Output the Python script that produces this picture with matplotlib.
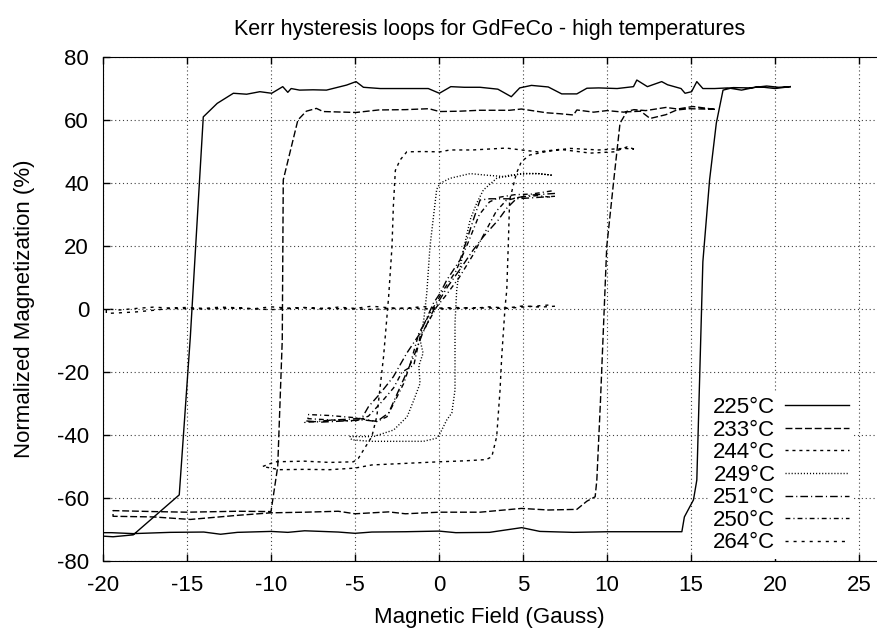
import matplotlib
matplotlib.use("Agg")
import matplotlib.pyplot as plt

plt.rcParams['font.family'] = ['Liberation Sans', 'DejaVu Sans']
plt.rcParams['axes.unicode_minus'] = False

# 225 C - big loop (descending top branch, then ascending bottom branch)
x225 = [20.9, 20.0, 19.0, 18.0, 17.2, 16.4, 15.7, 15.34, 15.03, 14.64, 14.4, 13.6, 13.25, 12.4,
        11.77, 11.57, 10.6, 9.5, 8.8, 8.2, 7.3, 6.5, 5.5, 4.8, 4.3, 3.5, 2.44, 1.5, 0.7, 0.02,
        -0.64, -2.0, -3.5, -4.5, -4.94, -5.5, -6.7, -7.5, -8.3, -8.8, -9.0, -9.3, -9.96, -10.66,
        -11.45, -12.24, -13.2, -14.03, -14.8, -15.46, -18.2, -19.4, -20.3,
        -20.3, -19.5, -18.2, -16.0, -14.0, -13.0, -12.0, -10.0, -9.0, -8.0, -6.0, -5.0, -4.0,
        -2.0, 0.0, 1.0, 3.0, 4.92, 6.0, 8.0, 10.0, 12.0, 14.45, 14.6, 15.14, 15.34, 15.7, 16.1,
        16.5, 16.9, 17.5, 18.5, 19.5, 20.2, 20.9]
y225 = [70.6, 70.0, 70.6, 69.5, 70.2, 70.0, 70.0, 72.2, 69.0, 68.5, 70.0, 71.2, 72.2, 70.6,
        72.7, 70.6, 70.0, 70.2, 70.1, 68.3, 68.3, 70.5, 71.0, 70.2, 67.4, 69.8, 70.4, 70.4, 70.6, 68.5,
        70.0, 70.0, 70.0, 70.4, 72.2, 71.1, 69.5, 69.6, 69.5, 70.0, 68.8, 70.6, 68.5, 69.0,
        68.2, 68.5, 65.3, 61.0, -8.8, -59.0, -71.7, -72.3, -72.0,
        -71.0, -71.0, -71.3, -70.9, -70.8, -71.5, -70.9, -70.6, -70.9, -70.4, -70.8, -71.2, -70.8,
        -70.7, -70.5, -71.0, -70.9, -69.4, -70.6, -70.9, -70.7, -70.7, -70.7, -66.0, -60.6, -54.3, 15.0, 41.0,
        59.0, 69.5, 70.3, 70.2, 70.8, 70.4, 70.6]

# 233 C
x233 = [16.4, 15.1, 14.2, 13.5, 12.3, 11.6, 11.0, 10.0, 9.2, 8.2, 8.0, 7.2, 6.4, 4.9, 4.2, 2.4,
        1.2, 0.02, -0.6, -2.0, -3.6, -4.94, -6.9, -7.3, -7.9, -8.4, -9.27, -9.33, -9.6, -10.0,
        -12.0, -15.0, -17.0, -19.4,
        -19.4, -17.0, -14.8, -12.0, -10.0, -8.0, -6.0, -5.0, -3.0, -2.0, 0.0, 2.44, 4.9, 6.5,
        8.2, 8.8, 9.29, 9.39, 9.6, 9.98, 10.4, 10.77, 11.17, 12.0, 12.56, 13.5, 14.15, 14.9, 16.4]
y233 = [63.4, 64.3, 63.5, 64.0, 63.0, 63.3, 62.5, 63.0, 62.5, 63.2, 61.6, 62.0, 62.3, 63.5, 63.1, 63.1,
        62.8, 62.7, 63.6, 63.3, 63.2, 62.4, 62.7, 63.7, 62.8, 60.0, 41.0, -9.8, -50.0, -64.3,
        -64.2, -64.5, -64.3, -64.0,
        -65.8, -66.0, -66.8, -65.5, -64.7, -64.5, -64.2, -65.0, -64.4, -65.0, -64.5, -64.5, -63.3, -63.8,
        -63.6, -61.0, -59.6, -54.3, -30.0, 19.8, 41.0, 59.0, 62.6, 62.8, 60.5, 61.7, 63.2, 63.6, 63.4]

# 244 C
x244 = [11.6, 11.2, 10.4, 9.0, 7.2, 5.9, 4.9, 4.0, 2.0, 0.65, 0.06, -1.0, -1.92, -2.32, -2.6,
        -2.72, -2.8, -3.0, -3.3, -3.7, -4.0, -4.5, -4.8, -5.1, -6.5, -8.0, -9.76, -10.5,
        -9.5, -8.0, -6.5, -5.0, -4.0, -2.0, 0.0, 1.5, 2.8, 3.14, 3.43, 3.63, 3.73, 3.93, 4.03,
        4.13, 4.2, 4.6, 4.9, 5.4, 6.4, 7.8, 9.5, 11.0, 11.6]
y244 = [50.8, 51.5, 49.9, 49.5, 50.7, 49.9, 50.5, 51.1, 50.5, 50.5, 49.9, 50.0, 49.9, 47.3, 44.0,
        32.5, 19.8, 3.9, -15.0, -34.0, -40.5, -44.8, -47.4, -48.5, -48.7, -48.3, -48.5, -50.0,
        -51.0, -50.9, -51.0, -50.5, -49.5, -49.0, -48.5, -48.2, -47.8, -46.9, -40.5, -25.7, -15.1, 0.7, 6.0,
        21.9, 34.6, 43.0, 46.8, 48.9, 50.0, 51.0, 50.5, 51.0, 50.8]

# 249 C
x249 = [6.7, 5.9, 4.9, 4.0, 2.8, 1.85, 0.65, 0.06, -0.14, -0.54, -0.73, -0.9, -1.13, -0.95, -1.2,
        -1.13, -1.5, -1.9, -2.7, -3.9, -5.3,
        -5.2, -4.1, -2.5, -0.93, -0.14, 0.06, 0.46, 0.76, 0.95, 0.95, 0.95, 1.05, 1.15, 1.45, 1.85,
        2.24, 2.64, 3.43, 4.2, 5.2, 5.9, 6.7]
y249 = [42.5, 43.0, 43.0, 42.0, 42.5, 43.0, 41.5, 39.9, 38.0, 19.8, 5.0, -3.0, -9.8, -14.0, -18.0,
        -23.6, -28.9, -34.2, -38.4, -40.5, -40.5,
        -41.5, -42.0, -42.0, -42.0, -41.0, -39.5, -35.2, -33.0, -25.7, -15.0, -4.5, 6.0, 10.0, 18.7, 28.3,
        33.6, 37.8, 41.5, 42.5, 43.0, 43.0, 42.5]

# 251 C
x251 = [6.9, 5.5, 4.3, 3.0, 2.44, 2.04, 1.65, 1.25, 0.46, 0.06, -0.34, -1.13, -1.92, -2.72, -3.5,
        -4.2, -4.6, -5.5, -6.5, -7.5, -8.0,
        -8.0, -7.0, -5.5, -4.5, -3.7, -3.0, -2.5, -2.0, -1.5, -1.0, -0.3, 0.5, 1.3, 2.0, 2.64,
        3.53, 4.03, 4.6, 5.5, 6.9]
y251 = [36.7, 36.2, 35.0, 35.0, 34.6, 28.3, 21.9, 15.6, 9.2, 5.0, 1.8, -7.7, -14.0, -21.5, -26.8,
        -31.0, -34.7, -35.0, -35.3, -35.8, -36.0,
        -35.5, -35.9, -35.5, -35.2, -35.7, -33.0, -27.0, -21.0, -15.0, -8.0, 0.0, 7.0, 13.0, 18.5, 23.0,
        28.3, 32.0, 35.0, 35.3, 35.8]

# 250 C
x250 = [6.7, 5.5, 4.5, 3.6, 3.0, 2.4, 1.8, 1.0, 0.26, -0.54, -1.2, -1.7, -2.1, -2.7, -3.1, -3.7,
        -5.0, -6.5, -7.8,
        -7.8, -6.5, -5.0, -4.2, -3.5, -2.7, -2.2, -1.5, -1.13, -0.14, 0.36, 1.2, 2.0, 2.8, 3.4,
        4.0, 4.8, 5.8, 6.7]
y250 = [37.5, 36.5, 36.3, 35.5, 34.0, 30.0, 22.0, 12.0, 6.0, -1.4, -7.7, -17.2, -23.6, -30.0, -34.2, -35.7,
        -34.5, -33.8, -33.5,
        -34.8, -35.2, -35.6, -34.0, -30.0, -25.0, -20.0, -17.8, -8.8, 0.7, 4.0, 10.0, 17.0, 25.0, 31.0,
        34.5, 35.5, 36.0, 35.5]

# 264 C - flat, no loop
x264 = [6.9, 6.0, 5.0, 4.0, 3.0, 2.0, 1.0, 0.0, -1.0, -2.0, -3.0, -4.0, -5.0, -6.0, -7.0, -8.0,
        -9.0, -10.0, -11.0, -12.0, -13.0, -14.0, -15.0, -16.0, -17.0, -18.0, -19.0, -19.8,
        -19.8, -19.0, -18.0, -17.0, -16.0, -14.0, -12.0, -10.0, -8.0, -6.0, -4.0, -2.0, 0.0,
        2.0, 4.0, 6.6]
y264 = [0.9, 0.6, 1.0, 0.3, 0.7, 0.2, 0.5, 0.3, 0.8, 0.1, 0.4, 0.9, 0.2, 0.6, 0.0, 0.5,
        0.3, 0.7, 0.1, 0.4, 0.6, 0.2, 0.5, 0.3, 0.6, 0.2, -0.3, 0.0,
        -1.4, -1.2, -0.9, -0.4, 0.2, 0.0, 0.3, -0.2, 0.4, 0.1, -0.1, 0.3, 0.0,
        0.4, 0.2, 1.3]

series = [
    ("225°C", x225, y225, "-"),
    ("233°C", x233, y233, (0, (5, 2))),
    ("244°C", x244, y244, (0, (2.2, 2.8))),
    ("249°C", x249, y249, (0, (0.8, 1.4))),
    ("251°C", x251, y251, (0, (5.5, 2.2, 0.8, 2.2))),
    ("250°C", x250, y250, (0, (3.5, 2.2, 0.8, 2.2))),
    ("264°C", x264, y264, (0, (2.2, 3.6))),
]

fig = plt.figure(figsize=(8.77, 6.31), dpi=100)
ax = fig.add_axes([0.1174, 0.1109, 0.8814, 0.7987])

for label, xs, ys, ls in series:
    ax.plot(xs, ys, color="black", lw=1.0, ls=ls, label=label, zorder=3)

ax.set_xlim(-20, 26)
ax.set_ylim(-80, 80)
ax.set_xticks(range(-20, 26, 5))
ax.set_yticks(range(-80, 81, 20))
ax.grid(True, color="0.25", lw=0.8, ls=(0, (1, 2.5)))
ax.spines["right"].set_visible(False)
ax.tick_params(direction="in", length=5, width=1, top=True, right=False, labelsize=16)
ax.tick_params(axis="x", pad=10)
ax.tick_params(axis="y", pad=10)

ax.set_title("Kerr hysteresis loops for GdFeCo - high temperatures", fontsize=15.5, pad=16)
ax.set_xlabel("Magnetic Field (Gauss)", fontsize=16, labelpad=8)
ax.set_ylabel("Normalized Magnetization (%)", fontsize=16, labelpad=16)

# gnuplot-style key: label then sample, opaque box that hides the grid
leg = ax.legend(loc="lower right", bbox_to_anchor=(0.972, 0.004), borderaxespad=0,
                markerfirst=False, fontsize=16, handlelength=2.85, handletextpad=0.45,
                labelspacing=0.07, borderpad=0.25, frameon=True, fancybox=False,
                framealpha=1.0)
leg.get_frame().set_facecolor("white")
leg.get_frame().set_edgecolor("none")
leg.set_zorder(2.5)

fig.savefig("out.png", dpi=100)
